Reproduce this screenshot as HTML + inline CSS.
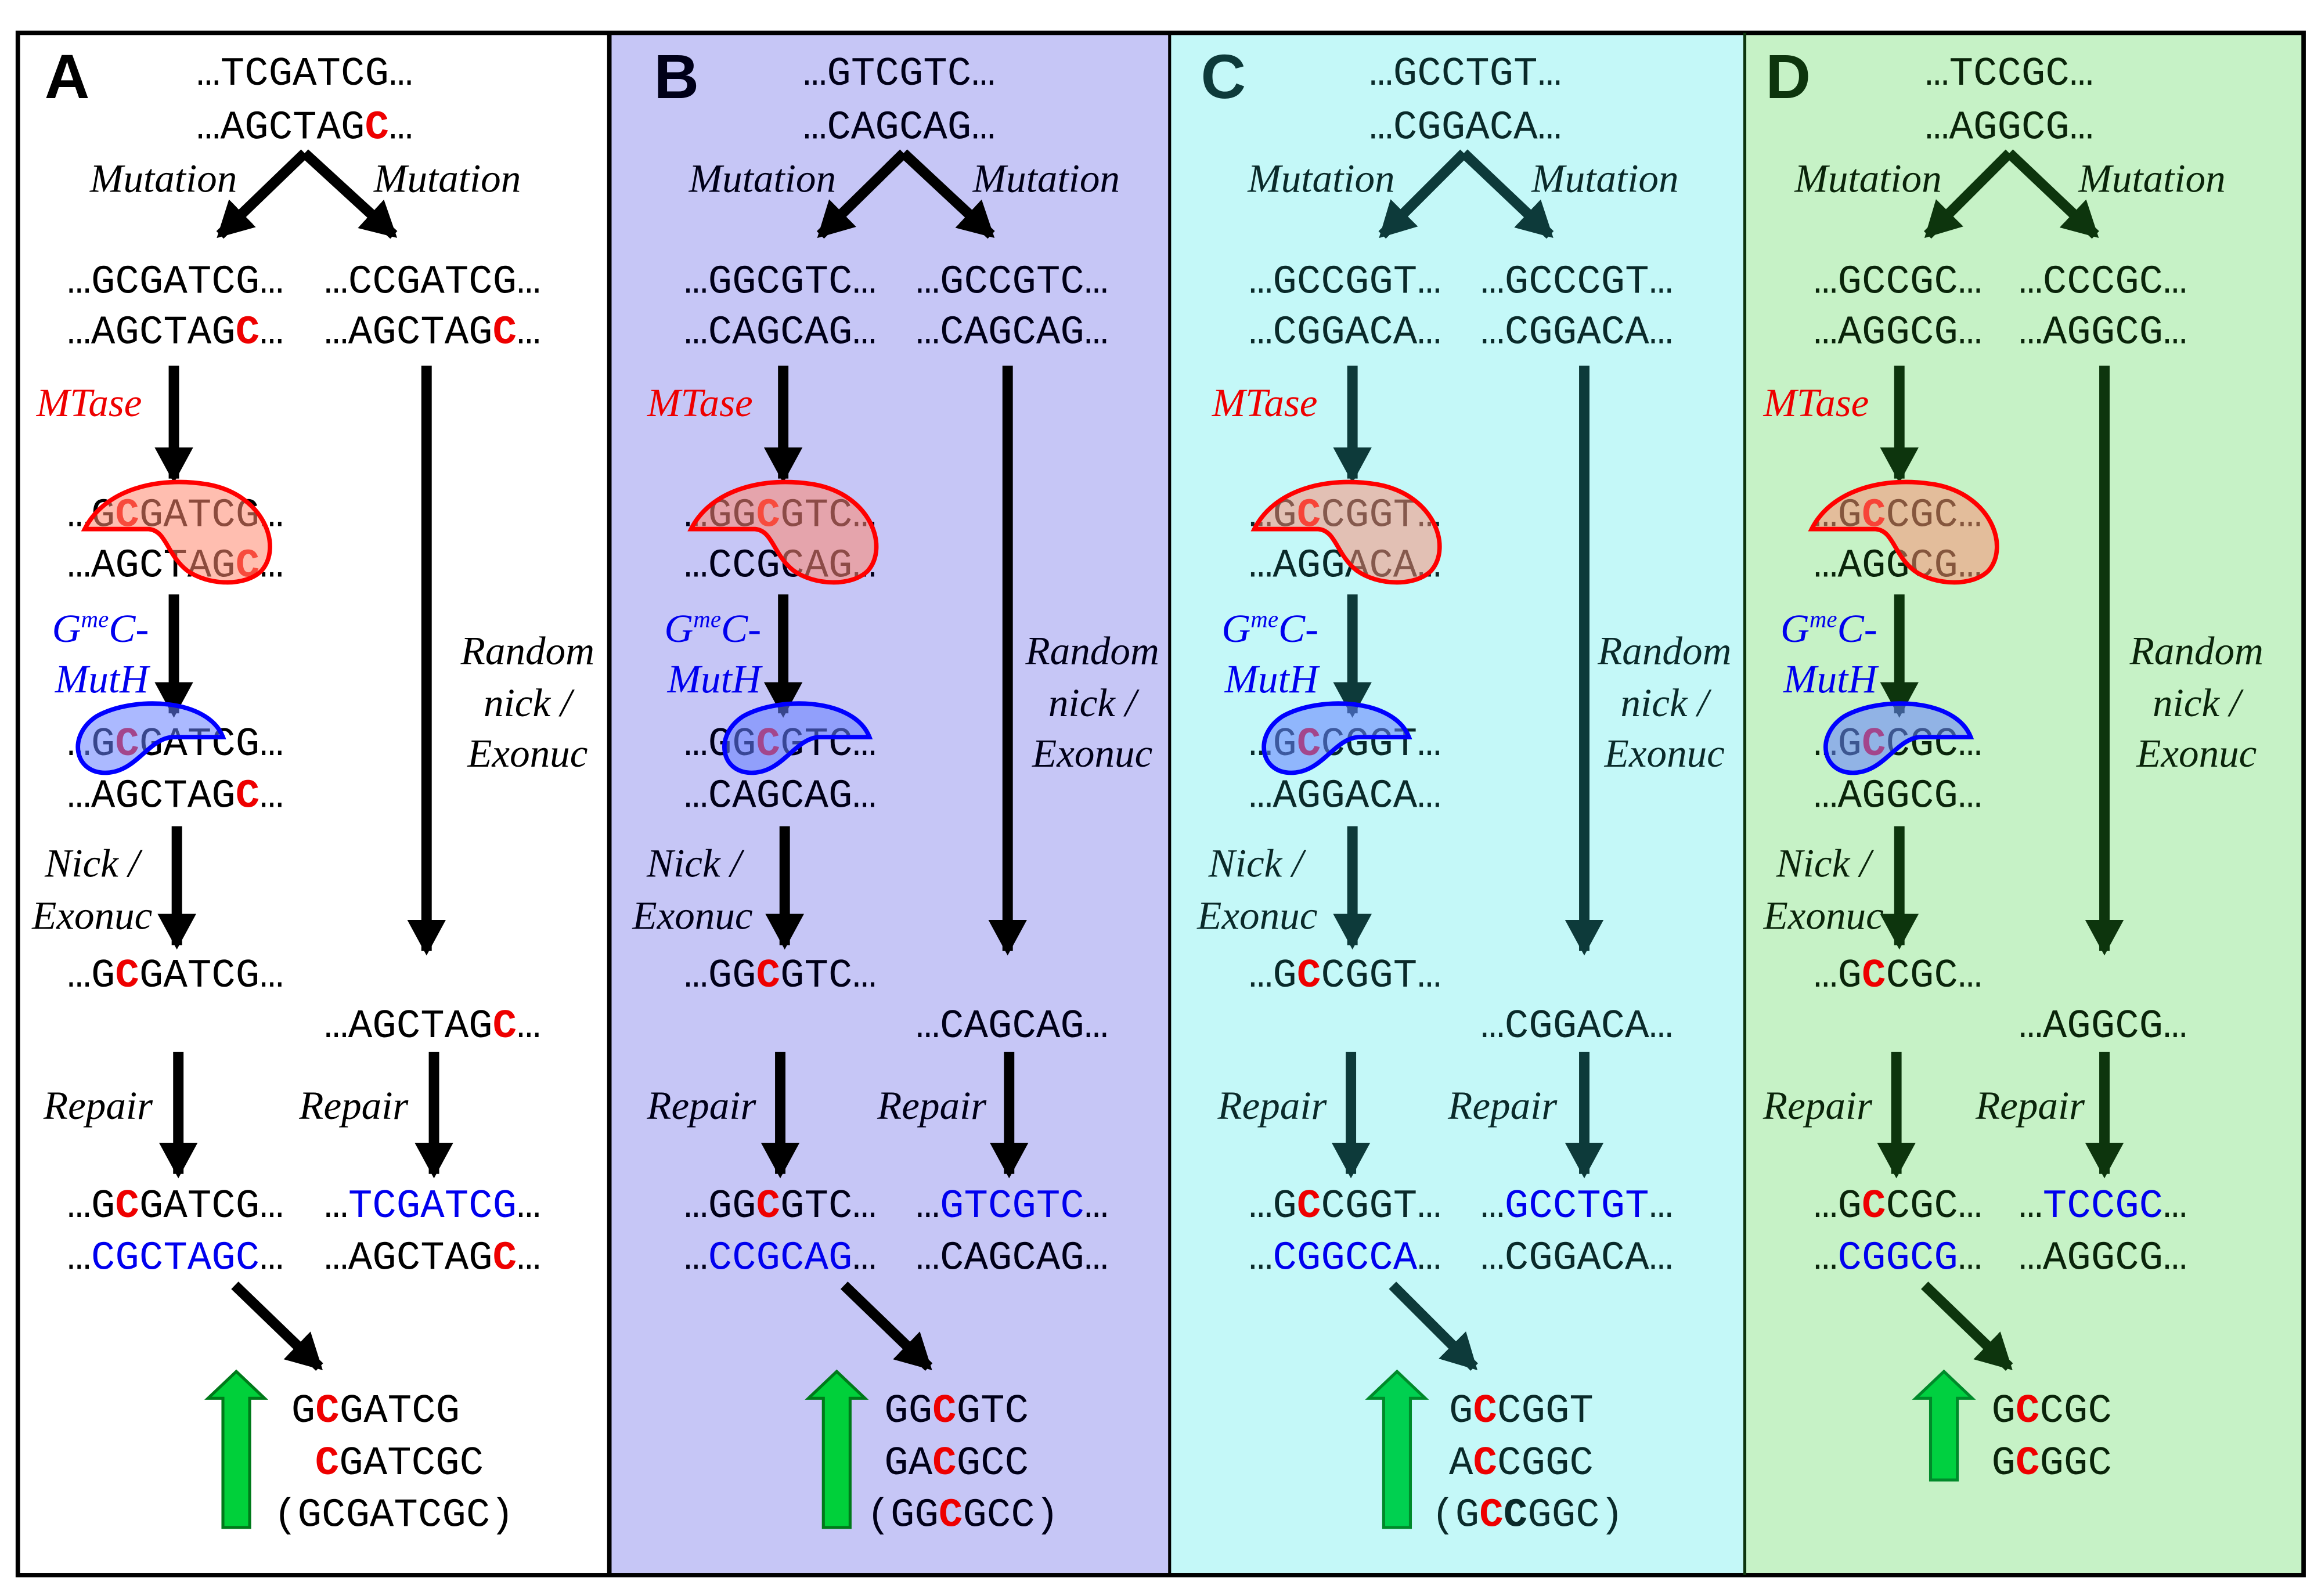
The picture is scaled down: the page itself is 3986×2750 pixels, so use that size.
<!DOCTYPE html>
<html><head><meta charset="utf-8">
<style>
html,body{margin:0;padding:0;background:#fff;}
svg{display:block;}
.s{font-family:"Liberation Mono","Nimbus Mono PS","FreeMono","Courier New",monospace;font-size:27px;text-anchor:middle;}
.r{font-family:"Liberation Mono","Nimbus Mono PS","FreeMono","Courier New",monospace;font-size:27px;}
.i{font-family:"Liberation Serif",serif;font-style:italic;font-size:27px;text-anchor:middle;}
.L{font-family:"Liberation Sans",sans-serif;font-weight:bold;font-size:42px;}
.c{fill:#ee0000;font-weight:bold;}
.b{fill:#0000ee;}
.e{font-family:"Liberation Serif",serif;font-style:italic;font-size:27px;fill:#0000ee;}
.m{font-family:"Liberation Serif",serif;font-style:italic;font-size:27px;fill:#ee0000;text-anchor:middle;}
</style></head>
<body>
<svg width="3986" height="2750" viewBox="0 0 1557 1074" xmlns="http://www.w3.org/2000/svg">
<defs>
<marker id="k0" markerUnits="userSpaceOnUse" markerWidth="24" markerHeight="26" refX="21" refY="13" orient="auto"><path d="M0,0 L24,13 L0,26 z" fill="#000"/></marker>
<marker id="k2" markerUnits="userSpaceOnUse" markerWidth="24" markerHeight="26" refX="21" refY="13" orient="auto"><path d="M0,0 L24,13 L0,26 z" fill="#0d3a3a"/></marker>
<marker id="k3" markerUnits="userSpaceOnUse" markerWidth="24" markerHeight="26" refX="21" refY="13" orient="auto"><path d="M0,0 L24,13 L0,26 z" fill="#0d350d"/></marker>
<path id="red" d="M57,356 C70,330 105,320 140,326 C178,333 190,368 176,384 C165,395 140,394 126,384 C112,373 112,357 100,356 Z"/>
<path id="blu" d="M150,496 C140,470 90,468 65,482 C45,495 50,521 72,520 C92,519 100,497 116,496 Z"/>
<polygon id="grn" points="-9,1028 9,1028 9,941 19,941 0,923 -19,941 -9,941"/>
</defs>

<!-- backgrounds -->
<rect x="12" y="22" width="1538" height="1038" fill="#fff"/>
<rect x="410" y="22" width="377" height="1038" fill="#c6c6f6"/>
<rect x="787" y="22" width="387" height="1038" fill="#c4f8f8"/>
<rect x="1174" y="22" width="376" height="1038" fill="#c6f2c6"/>
<rect x="12" y="22" width="1538" height="1038" fill="none" stroke="#000" stroke-width="3"/>
<line x1="410" y1="22" x2="410" y2="1060" stroke="#000" stroke-width="3"/>
<line x1="787" y1="22" x2="787" y2="1060" stroke="#000" stroke-width="2"/>
<line x1="1174" y1="22" x2="1174" y2="1060" stroke="#0d350d" stroke-width="2"/>

<!-- ============ PANEL A ============ -->
<g fill="#000">
<text class="L" x="30" y="66">A</text>
<text class="s" x="205" y="57">…TCGATCG…</text>
<text class="s" x="205" y="93">…AGCTAG<tspan class="c">C</tspan>…</text>
<text class="i" x="110" y="129">Mutation</text>
<text class="i" x="301" y="129">Mutation</text>
<text class="s" x="118" y="197">…GCGATCG…</text>
<text class="s" x="118" y="231">…AGCTAG<tspan class="c">C</tspan>…</text>
<text class="s" x="291" y="197">…CCGATCG…</text>
<text class="s" x="291" y="231">…AGCTAG<tspan class="c">C</tspan>…</text>
<text class="m" x="60" y="280">MTase</text>
<text class="s" x="118" y="354">…G<tspan class="c">C</tspan>GATCG…</text>
<text class="s" x="118" y="388">…AGCTAG<tspan class="c">C</tspan>…</text>
<text class="e" x="35" y="432">G<tspan font-size="16" dy="-10">me</tspan><tspan dy="10">C-</tspan></text>
<text class="e" x="37" y="466">MutH</text>
<text class="s" x="118" y="508">…G<tspan class="c">C</tspan>GATCG…</text>
<text class="s" x="118" y="543">…AGCTAG<tspan class="c">C</tspan>…</text>
<text class="i" x="355" y="447">Random</text>
<text class="i" x="355" y="482">nick /</text>
<text class="i" x="355" y="516">Exonuc</text>
<text class="i" x="62" y="590">Nick /</text>
<text class="i" x="62" y="625">Exonuc</text>
<text class="s" x="118" y="664">…G<tspan class="c">C</tspan>GATCG…</text>
<text class="s" x="291" y="698">…AGCTAG<tspan class="c">C</tspan>…</text>
<text class="i" x="66" y="753">Repair</text>
<text class="i" x="238" y="753">Repair</text>
<text class="s" x="118" y="819">…G<tspan class="c">C</tspan>GATCG…</text>
<text class="s" x="118" y="854">…<tspan class="b">CGCTAGC</tspan>…</text>
<text class="s" x="291" y="819">…<tspan class="b">TCGATCG</tspan>…</text>
<text class="s" x="291" y="854">…AGCTAG<tspan class="c">C</tspan>…</text>
<text class="r" x="196" y="957">G<tspan class="c">C</tspan>GATCG</text>
<text class="r" x="212" y="992"><tspan class="c">C</tspan>GATCGC</text>
<text class="r" x="184" y="1027">(GCGATCGC)</text>
</g>
<g stroke="#000" stroke-width="7" marker-end="url(#k0)">
<line x1="205" y1="103" x2="148" y2="158"/>
<line x1="205" y1="103" x2="265" y2="158"/>
<line x1="117" y1="246" x2="117" y2="322"/>
<line x1="117" y1="400" x2="117" y2="480"/>
<line x1="119" y1="556" x2="119" y2="636"/>
<line x1="120" y1="708" x2="120" y2="790"/>
<line x1="287" y1="246" x2="287" y2="640"/>
<line x1="292" y1="708" x2="292" y2="790"/>
<line x1="158" y1="865" x2="215" y2="920"/>
</g>
<use href="#red" fill="#ff8870" fill-opacity="0.55" stroke="#ff0000" stroke-width="3"/>
<use href="#blu" fill="#6680ff" fill-opacity="0.55" stroke="#0000ff" stroke-width="3"/>
<use href="#grn" transform="translate(159,0)" fill="#00d03a" stroke="#007a1a" stroke-width="2"/>

<!-- ============ PANEL B ============ -->
<g fill="#000018">
<text class="L" x="440" y="66">B</text>
<text class="s" x="605" y="57">…GTCGTC…</text>
<text class="s" x="605" y="93">…CAGCAG…</text>
<text class="i" x="513" y="129">Mutation</text>
<text class="i" x="704" y="129">Mutation</text>
<text class="s" x="525" y="197">…GGCGTC…</text>
<text class="s" x="525" y="231">…CAGCAG…</text>
<text class="s" x="681" y="197">…GCCGTC…</text>
<text class="s" x="681" y="231">…CAGCAG…</text>
<text class="m" x="471" y="280">MTase</text>
<text class="s" x="525" y="354">…GG<tspan class="c">C</tspan>GTC…</text>
<text class="s" x="525" y="388">…CCGCAG…</text>
<text class="e" x="447" y="432">G<tspan font-size="16" dy="-10">me</tspan><tspan dy="10">C-</tspan></text>
<text class="e" x="449" y="466">MutH</text>
<text class="s" x="525" y="508">…GG<tspan class="c">C</tspan>GTC…</text>
<text class="s" x="525" y="543">…CAGCAG…</text>
<text class="i" x="735" y="447">Random</text>
<text class="i" x="735" y="482">nick /</text>
<text class="i" x="735" y="516">Exonuc</text>
<text class="i" x="467" y="590">Nick /</text>
<text class="i" x="466" y="625">Exonuc</text>
<text class="s" x="525" y="664">…GG<tspan class="c">C</tspan>GTC…</text>
<text class="s" x="681" y="698">…CAGCAG…</text>
<text class="i" x="472" y="753">Repair</text>
<text class="i" x="627" y="753">Repair</text>
<text class="s" x="525" y="819">…GG<tspan class="c">C</tspan>GTC…</text>
<text class="s" x="525" y="854">…<tspan class="b">CCGCAG</tspan>…</text>
<text class="s" x="681" y="819">…<tspan class="b">GTCGTC</tspan>…</text>
<text class="s" x="681" y="854">…CAGCAG…</text>
<text class="r" x="595" y="957">GG<tspan class="c">C</tspan>GTC</text>
<text class="r" x="595" y="992">GA<tspan class="c">C</tspan>GCC</text>
<text class="r" x="583" y="1027">(GG<tspan class="c">C</tspan>GCC)</text>
</g>
<g stroke="#000" stroke-width="7" marker-end="url(#k0)">
<line x1="608" y1="103" x2="552" y2="158"/>
<line x1="608" y1="103" x2="667" y2="158"/>
<line x1="527" y1="246" x2="527" y2="322"/>
<line x1="527" y1="400" x2="527" y2="480"/>
<line x1="528" y1="556" x2="528" y2="636"/>
<line x1="525" y1="708" x2="525" y2="790"/>
<line x1="678" y1="246" x2="678" y2="640"/>
<line x1="679" y1="708" x2="679" y2="790"/>
<line x1="568" y1="865" x2="625" y2="920"/>
</g>
<use href="#red" transform="translate(408,0)" fill="#ff8870" fill-opacity="0.55" stroke="#ff0000" stroke-width="3"/>
<use href="#blu" transform="translate(435,0)" fill="#6680ff" fill-opacity="0.55" stroke="#0000ff" stroke-width="3"/>
<use href="#grn" transform="translate(563,0)" fill="#00d03a" stroke="#007a1a" stroke-width="2"/>

<!-- ============ PANEL C ============ -->
<g fill="#0a2a2a">
<text class="L" x="808" y="66" fill="#0d3a3a">C</text>
<text class="s" x="986" y="57">…GCCTGT…</text>
<text class="s" x="986" y="93">…CGGACA…</text>
<text class="i" x="889" y="129">Mutation</text>
<text class="i" x="1080" y="129">Mutation</text>
<text class="s" x="905" y="197">…GCCGGT…</text>
<text class="s" x="905" y="231">…CGGACA…</text>
<text class="s" x="1061" y="197">…GCCCGT…</text>
<text class="s" x="1061" y="231">…CGGACA…</text>
<text class="m" x="851" y="280">MTase</text>
<text class="s" x="905" y="354">…G<tspan class="c">C</tspan>CGGT…</text>
<text class="s" x="905" y="388">…AGGACA…</text>
<text class="e" x="822" y="432">G<tspan font-size="16" dy="-10">me</tspan><tspan dy="10">C-</tspan></text>
<text class="e" x="824" y="466">MutH</text>
<text class="s" x="905" y="508">…G<tspan class="c">C</tspan>CGGT…</text>
<text class="s" x="905" y="543">…AGGACA…</text>
<text class="i" x="1120" y="447">Random</text>
<text class="i" x="1120" y="482">nick /</text>
<text class="i" x="1120" y="516">Exonuc</text>
<text class="i" x="845" y="590">Nick /</text>
<text class="i" x="846" y="625">Exonuc</text>
<text class="s" x="905" y="664">…G<tspan class="c">C</tspan>CGGT…</text>
<text class="s" x="1061" y="698">…CGGACA…</text>
<text class="i" x="856" y="753">Repair</text>
<text class="i" x="1011" y="753">Repair</text>
<text class="s" x="905" y="819">…G<tspan class="c">C</tspan>CGGT…</text>
<text class="s" x="905" y="854">…<tspan class="b">CGGCCA</tspan>…</text>
<text class="s" x="1061" y="819">…<tspan class="b">GCCTGT</tspan>…</text>
<text class="s" x="1061" y="854">…CGGACA…</text>
<text class="r" x="975" y="957">G<tspan class="c">C</tspan>CGGT</text>
<text class="r" x="975" y="992">A<tspan class="c">C</tspan>CGGC</text>
<text class="r" x="963" y="1027">(G<tspan class="c">C</tspan><tspan font-weight="bold">C</tspan>GGC)</text>
</g>
<g stroke="#0d3a3a" stroke-width="7" marker-end="url(#k2)">
<line x1="985" y1="103" x2="930" y2="158"/>
<line x1="985" y1="103" x2="1043" y2="158"/>
<line x1="910" y1="246" x2="910" y2="322"/>
<line x1="910" y1="400" x2="910" y2="480"/>
<line x1="910" y1="556" x2="910" y2="636"/>
<line x1="909" y1="708" x2="909" y2="790"/>
<line x1="1066" y1="246" x2="1066" y2="640"/>
<line x1="1066" y1="708" x2="1066" y2="790"/>
<line x1="937" y1="865" x2="992" y2="920"/>
</g>
<use href="#red" transform="translate(787,0)" fill="#ff8870" fill-opacity="0.5" stroke="#ff0000" stroke-width="3"/>
<use href="#blu" transform="translate(798,0)" fill="#6680ff" fill-opacity="0.55" stroke="#0000ff" stroke-width="3"/>
<use href="#grn" transform="translate(940,0)" fill="#00d050" stroke="#008a2a" stroke-width="2"/>

<!-- ============ PANEL D ============ -->
<g fill="#0a240a">
<text class="L" x="1188" y="66" fill="#0d350d">D</text>
<text class="s" x="1352" y="57">…TCCGC…</text>
<text class="s" x="1352" y="93">…AGGCG…</text>
<text class="i" x="1257" y="129">Mutation</text>
<text class="i" x="1448" y="129">Mutation</text>
<text class="s" x="1277" y="197">…GCCGC…</text>
<text class="s" x="1277" y="231">…AGGCG…</text>
<text class="s" x="1415" y="197">…CCCGC…</text>
<text class="s" x="1415" y="231">…AGGCG…</text>
<text class="m" x="1222" y="280">MTase</text>
<text class="s" x="1277" y="354">…G<tspan class="c">C</tspan>CGC…</text>
<text class="s" x="1277" y="388">…AGGCG…</text>
<text class="e" x="1198" y="432">G<tspan font-size="16" dy="-10">me</tspan><tspan dy="10">C-</tspan></text>
<text class="e" x="1200" y="466">MutH</text>
<text class="s" x="1277" y="508">…G<tspan class="c">C</tspan>CGC…</text>
<text class="s" x="1277" y="543">…AGGCG…</text>
<text class="i" x="1478" y="447">Random</text>
<text class="i" x="1478" y="482">nick /</text>
<text class="i" x="1478" y="516">Exonuc</text>
<text class="i" x="1227" y="590">Nick /</text>
<text class="i" x="1227" y="625">Exonuc</text>
<text class="s" x="1277" y="664">…G<tspan class="c">C</tspan>CGC…</text>
<text class="s" x="1415" y="698">…AGGCG…</text>
<text class="i" x="1223" y="753">Repair</text>
<text class="i" x="1366" y="753">Repair</text>
<text class="s" x="1277" y="819">…G<tspan class="c">C</tspan>CGC…</text>
<text class="s" x="1277" y="854">…<tspan class="b">CGGCG</tspan>…</text>
<text class="s" x="1415" y="819">…<tspan class="b">TCCGC</tspan>…</text>
<text class="s" x="1415" y="854">…AGGCG…</text>
<text class="r" x="1340" y="957">G<tspan class="c">C</tspan>CGC</text>
<text class="r" x="1340" y="992">G<tspan class="c">C</tspan>GGC</text>
</g>
<g stroke="#0d350d" stroke-width="7" marker-end="url(#k3)">
<line x1="1352" y1="103" x2="1297" y2="158"/>
<line x1="1352" y1="103" x2="1410" y2="158"/>
<line x1="1278" y1="246" x2="1278" y2="322"/>
<line x1="1278" y1="400" x2="1278" y2="480"/>
<line x1="1278" y1="556" x2="1278" y2="636"/>
<line x1="1276" y1="708" x2="1276" y2="790"/>
<line x1="1416" y1="246" x2="1416" y2="640"/>
<line x1="1416" y1="708" x2="1416" y2="790"/>
<line x1="1295" y1="865" x2="1352" y2="920"/>
</g>
<use href="#red" transform="translate(1162,0)" fill="#ff8870" fill-opacity="0.5" stroke="#ff0000" stroke-width="3"/>
<use href="#blu" transform="translate(1176,0)" fill="#6680ff" fill-opacity="0.55" stroke="#0000ff" stroke-width="3"/>
<polygon points="1299,996 1317,996 1317,941 1327,941 1308,923 1289,941 1299,941" fill="#00d040" stroke="#008a2a" stroke-width="2"/>
</svg>
</body></html>
